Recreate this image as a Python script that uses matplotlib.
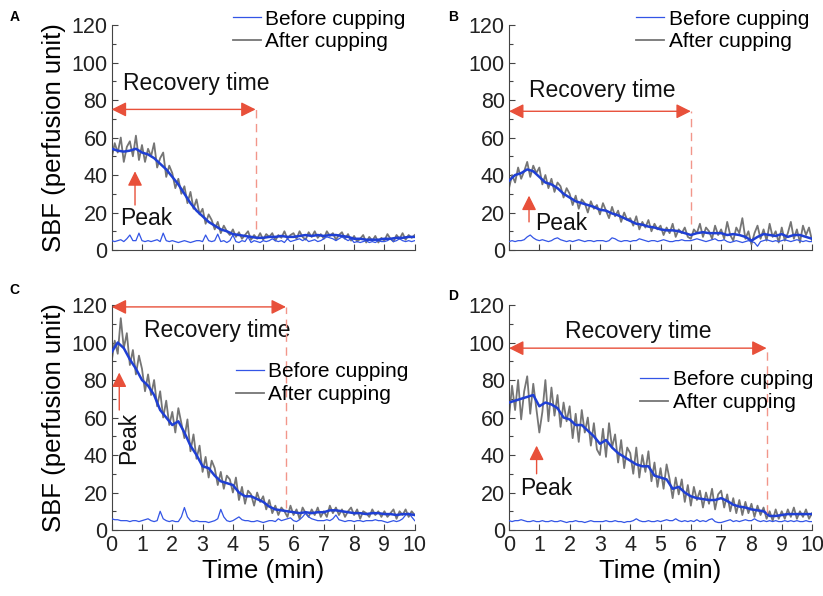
import numpy as np
import matplotlib.pyplot as plt
from matplotlib.ticker import MultipleLocator

plt.rcParams['font.family'] = ['Liberation Sans', 'DejaVu Sans']

# time axes (min)
t_raw = np.linspace(0, 10, 101)     # raw signal, every 0.1 min
t_smooth = np.linspace(0, 10, 51)   # smoothed after-cupping curve, every 0.2 min

# ---- panel A ----
a_before = [5, 4.5, 5, 5.5, 4.5, 6, 8, 5, 5, 9,
            5, 4.5, 5, 4.5, 5, 5.5, 4.5, 9, 5, 4.5,
            5, 4.5, 4, 4.5, 5, 4.5, 4, 4.5, 5, 5,
            4.5, 8, 5, 4.5, 5, 8.5, 4.5, 5, 4, 5,
            8, 4.5, 4, 5, 4.5, 7, 4, 5, 4.5, 4,
            5, 4.5, 5, 6, 5, 4.5, 5, 4, 6, 4.5,
            5, 5.5, 6, 5, 6, 4.5, 5, 5.5, 4.5, 5,
            6, 7, 6.5, 6, 5, 6, 7, 6, 5, 6,
            4, 4.5, 4, 4.5, 5, 4, 4.5, 4, 5, 4.5,
            4.5, 5, 6, 4.5, 5, 6, 5, 4.5, 5, 4.5,
            5]
a_after = [49, 57, 52, 60, 47, 55, 58, 50, 61, 48,
           56, 47, 54, 50, 57, 44, 49, 52, 39, 45,
           41, 33, 38, 30, 34, 25, 31, 22, 27, 19,
           22, 14, 19, 16, 11, 15, 9, 13, 10, 8,
           11, 7, 9.5, 6, 8, 10, 5.5, 8, 6, 9,
           5.5, 8.5, 7, 9, 5, 8, 6.5, 10, 6, 8,
           9, 6, 10, 7, 5.5, 9.5, 7, 10, 6.5, 8.5,
           6, 10, 7.5, 9, 5.5, 8, 9.5, 6, 8.5, 5,
           7.5, 4.5, 6, 8, 4, 7, 5, 7.5, 4, 6.5,
           5, 8.5, 6, 4.5, 8, 6, 9, 5.5, 8, 6.5,
           8]
a_smooth = [54, 53, 52.5, 53, 54, 52, 51, 49, 46, 43,
            39, 35, 30, 25, 21, 18, 15, 13, 11, 10,
            8.5, 8, 7.5, 7, 6.5, 6.5, 7, 7, 7.5, 7,
            7, 7.5, 8, 7.5, 8, 7.5, 8, 8, 7.5, 7,
            6, 6, 5.5, 5.5, 5.5, 6, 6, 6.5, 6.5, 7,
            7]

# ---- panel B ----
b_before = [4.5, 5, 4.5, 5, 5, 5.5, 7, 8, 6.5, 5.5,
            5, 5.5, 5, 4.5, 5, 6, 6.5, 5.5, 5, 4.5,
            5, 4.5, 5, 5.5, 5, 4.5, 5, 5, 4.5, 5,
            5, 5, 4.5, 5, 6.5, 6, 5, 4.5, 5, 5,
            4.5, 5, 5, 6, 5.5, 5, 4.5, 5, 5, 4.5,
            5, 5.5, 5, 4.5, 4.5, 5, 5, 5.5, 5, 5,
            5, 5.5, 6, 5.5, 5, 4.5, 5, 5.5, 6, 5,
            5, 5.5, 4.5, 4, 4.5, 5, 4.5, 4, 4.5, 5,
            4.5, 4, 2, 4.5, 5, 5.5, 5, 4.5, 5, 4.5,
            5, 5.5, 5, 4.5, 5, 5.5, 5, 4.5, 5, 4.5,
            4.5]
b_after = [33, 40, 36, 44, 38, 42, 47, 39, 45, 41,
           44, 35, 40, 33, 38, 31, 36, 34, 28, 33,
           30, 24, 29, 22, 27, 25, 20, 26, 22, 24,
           19, 25, 21, 17, 23, 18, 21, 15, 20, 16,
           17, 13, 18, 11, 15, 12, 16, 10, 14, 11,
           13, 8, 12, 9, 14, 7, 11, 9, 12, 7,
           6, 11, 9, 14, 7, 12, 10, 6, 13, 8,
           11, 6, 15, 8, 5, 12, 9, 17, 6, 10,
           3, 9, 13, 6, 11, 5, 14, 7, 10, 4,
           12, 5, 9, 15, 6, 11, 4, 13, 8, 12,
           5]
b_smooth = [37, 40, 41, 43, 42, 39, 36, 35, 33, 30,
            28, 26, 25, 24, 23, 21.5, 21, 19.5, 18.5, 17,
            15.5, 14, 13.5, 12.5, 12, 11, 10.5, 10.5, 10, 9,
            8, 9, 9.5, 9, 9, 9, 8, 8.5, 8, 7,
            5, 7, 8.5, 8, 7.5, 8.5, 7, 8, 8, 7,
            6]

# ---- panel C ----
c_before = [6, 5.5, 5.5, 5, 5, 5, 4.5, 5, 5, 4.5,
            5, 5.5, 6, 5, 4.5, 5, 10, 6, 5, 4.5,
            5, 4.5, 4.5, 7, 12, 7, 5, 4.5, 5, 4.5,
            4.5, 4.5, 4, 4.5, 5, 6, 11, 7, 5, 4.5,
            5, 6, 7, 5.5, 5, 5, 4.5, 4.5, 5, 4.5,
            4, 4.5, 5, 5, 4.5, 6, 5, 5.5, 6, 6.5,
            5, 4.5, 5.5, 7, 9, 7, 6, 5.5, 5, 5,
            5, 5.5, 5, 6, 8, 5.5, 5, 4.5, 5, 5,
            4.5, 5, 5, 4.5, 5, 5, 5, 5.5, 5, 5,
            4.5, 4, 4.5, 5, 4.5, 5, 6, 8, 9, 7,
            5]
c_after = [90, 101, 94, 113, 97, 105, 88, 96, 83, 93,
           86, 74, 83, 72, 80, 66, 74, 60, 69, 56,
           63, 52, 65, 57, 49, 59, 42, 51, 38, 45,
           31, 39, 28, 37, 33, 24, 31, 22, 29, 27,
           20, 28, 16, 23, 14, 21, 19, 13, 20, 15,
           18, 11, 16, 9, 13, 8, 12, 10, 7, 13,
           8, 11, 6, 12, 9, 7, 11, 8, 12, 7,
           10, 7, 13, 9, 12, 8, 11, 7, 10, 12,
           8, 11, 6, 10, 9, 7, 11, 8, 10, 7,
           10, 7, 9, 11, 6, 10, 8, 11, 7, 10,
           8]
c_smooth = [95, 100, 97, 91, 86, 80, 77, 72, 64, 60,
            56, 58, 52, 45, 40, 34, 33, 29, 26, 25,
            24, 20, 18, 18, 16.5, 15, 12.5, 11, 10.5, 10,
            9.5, 9, 9.5, 9, 9.5, 9.5, 10.5, 10.5, 10, 9.5,
            9, 9, 8.5, 9, 9, 8.5, 8.5, 8, 8.5, 8.5,
            8]

# ---- panel D ----
d_before = [5, 4.5, 5, 5, 5.5, 5, 4.5, 4.5, 5, 4.5,
            4.5, 5, 4.5, 4.5, 5, 4.5, 4.5, 5, 4.5, 4,
            4.5, 4.5, 5, 4.5, 4.5, 4, 4.5, 5, 4.5, 4.5,
            4.5, 4.5, 5, 4.5, 4.5, 5, 4.5, 4.5, 4, 4.5,
            4.5, 5, 6, 5, 4.5, 4.5, 5, 4.5, 4.5, 5,
            4.5, 5, 5.5, 5, 5, 6, 5, 4.5, 5, 4.5,
            5, 4.5, 5.5, 4.5, 5, 4.5, 5.5, 6, 4.5, 4,
            4, 4.5, 5, 5.5, 4.5, 5, 4.5, 5, 5.5, 5,
            5, 6, 5, 4.5, 5, 4.5, 5, 4.5, 5, 4.5,
            4.5, 5, 4.5, 5, 4.5, 5, 4.5, 4.5, 5, 4.5,
            4.5]
d_after = [60, 77, 64, 80, 59, 74, 82, 62, 78, 65,
           52, 63, 80, 58, 76, 61, 72, 55, 68, 58,
           66, 49, 62, 47, 64, 52, 60, 45, 57, 43,
           40, 54, 39, 57, 44, 51, 36, 48, 33, 44,
           41, 30, 44, 28, 40, 31, 42, 26, 36, 23,
           33, 22, 35, 27, 17, 28, 19, 27, 15, 24,
           13, 23, 16, 21, 12, 20, 14, 22, 11, 19,
           21, 12, 19, 10, 17, 9, 16, 8, 15, 9,
           14, 7, 13, 8, 12, 6, 10, 5, 11, 6,
           10, 6, 11, 7, 12, 6, 10, 7, 11, 6,
           9]
d_smooth = [68, 69, 70, 71, 72, 66, 68, 67, 65, 60,
            59, 56, 56, 53, 50, 46, 48, 44, 41, 39,
            37, 35, 34, 34, 29, 28, 27, 22, 23, 20,
            18, 17, 16.5, 16, 16, 17, 15.5, 13.5, 12.5, 12,
            11, 10.5, 10, 7.5, 7.5, 8, 8.5, 8.5, 8.5, 8.5,
            8.5]

panel_labels = ['A', 'B', 'C', 'D']
recovery_end = [4.75, 6.0, 5.75, 8.5]   # min
peak_time = [0.77, 0.66, 0.25, 0.91]    # min

BLUE_RAW = '#3355e6'
BLUE_SMOOTH = '#1f3fd4'
GRAY = '#757575'
RED = '#e8503a'
RED_DASH = '#f2968a'

fig = plt.figure(figsize=(8.23, 5.96), dpi=100)

# axes boxes in figure fraction: left, bottom, width, height
boxes = [(0.1357, 0.5805, 0.3682, 0.3775),
         (0.6185, 0.5805, 0.3682, 0.3775),
         (0.1357, 0.1107, 0.3682, 0.3775),
         (0.6185, 0.1107, 0.3682, 0.3775)]


def draw_panel(ax, before, after, smooth, i, arrow_y, dash_bottom, txt_xy,
               peak_from, peak_to, peak_xy, peak_rot, leg_anchor, lab_xy):
    ax.plot(t_raw, after, color=GRAY, lw=1.3, label='After cupping', zorder=2)
    ax.plot(t_raw, before, color=BLUE_RAW, lw=0.9, label='Before cupping', zorder=3)
    ax.plot(t_smooth, smooth, color=BLUE_SMOOTH, lw=1.8, zorder=4)

    ax.set_xlim(0, 10)
    ax.set_ylim(0, 120)
    ax.spines['top'].set_visible(False)
    ax.spines['right'].set_visible(False)
    for s in ['left', 'bottom']:
        ax.spines[s].set_color('#444444')
        ax.spines[s].set_linewidth(0.8)
    ax.xaxis.set_major_locator(MultipleLocator(1))
    ax.yaxis.set_major_locator(MultipleLocator(20))
    ax.yaxis.set_minor_locator(MultipleLocator(10))
    ax.tick_params(which='both', direction='in', colors='#444444',
                   labelcolor='#222222', labelsize=15.5, width=0.8)
    ax.tick_params(which='major', length=4)
    ax.tick_params(which='minor', length=3)
    ax.tick_params(axis='y', pad=3)

    # recovery time arrow + dashed marker
    rx = recovery_end[i]
    ax.annotate('', xy=(rx, arrow_y), xytext=(0, arrow_y),
                arrowprops=dict(arrowstyle='<|-|>', color=RED, lw=1.0,
                                mutation_scale=22, shrinkA=0, shrinkB=0),
                annotation_clip=False, zorder=6)
    ax.plot([rx, rx], [dash_bottom, arrow_y], color=RED_DASH, lw=1.0,
            ls=(0, (6, 4)), zorder=5)
    ax.text(txt_xy[0], txt_xy[1], 'Recovery time', fontsize=16.5,
            ha='center', va='center', color='#111111')

    # peak arrow
    px = peak_time[i]
    ax.annotate('', xy=(px, peak_to), xytext=(px, peak_from),
                arrowprops=dict(arrowstyle='-|>', color=RED, lw=1.0,
                                mutation_scale=22, shrinkA=0, shrinkB=0),
                zorder=6)
    ax.text(peak_xy[0], peak_xy[1], 'Peak', fontsize=16.5, rotation=peak_rot,
            ha='center', va='center', color='#111111')

    handles, labels = ax.get_legend_handles_labels()
    ax.legend(handles[::-1], labels[::-1], loc='upper right',
              bbox_to_anchor=leg_anchor, frameon=False, fontsize=15,
              handlelength=1.35, handletextpad=0.2, labelspacing=0.17,
              borderpad=0, borderaxespad=0)

    ax.text(lab_xy[0], lab_xy[1], panel_labels[i], transform=ax.transAxes,
            fontsize=10, fontweight='bold', ha='center', va='center')


ax_a = fig.add_axes(boxes[0])
draw_panel(ax_a, a_before, a_after, a_smooth, 0, 75, 11, (2.78, 89),
           24, 42, (1.13, 17), 0, (0.97, 1.068), (-0.32, 1.035))
ax_a.tick_params(axis='x', labelbottom=False)
ax_a.set_ylabel('SBF (perfusion unit)', fontsize=18.5, labelpad=4)

ax_b = fig.add_axes(boxes[1])
draw_panel(ax_b, b_before, b_after, b_smooth, 1, 74, 14, (3.09, 85),
           15, 29, (1.72, 14), 0, (0.99, 1.068), (-0.185, 1.035))
ax_b.tick_params(axis='x', labelbottom=False)

ax_c = fig.add_axes(boxes[2])
draw_panel(ax_c, c_before, c_after, c_smooth, 2, 119, 12, (3.47, 106.5),
           64, 84, (0.57, 49), 90, (0.98, 0.745), (-0.32, 1.067))
ax_c.set_ylabel('SBF (perfusion unit)', fontsize=18.5, labelpad=4)
ax_c.set_xlabel('Time (min)', fontsize=18.5, labelpad=2)

ax_d = fig.add_axes(boxes[3])
draw_panel(ax_d, d_before, d_after, d_smooth, 3, 97, 9, (4.27, 106),
           30, 45, (1.24, 22.4), 0, (1.003, 0.71), (-0.185, 1.04))
ax_d.set_xlabel('Time (min)', fontsize=18.5, labelpad=2)

fig.savefig('out.png', dpi=100)
